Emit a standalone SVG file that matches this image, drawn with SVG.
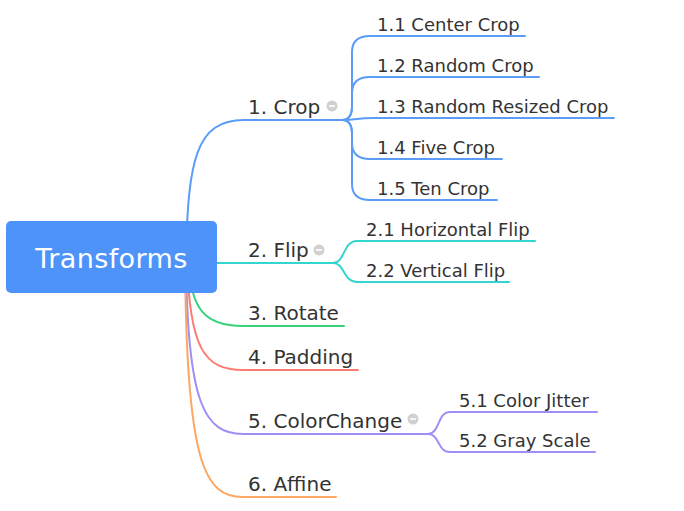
<svg xmlns="http://www.w3.org/2000/svg" width="684" height="511" viewBox="0 0 684 511">
<style>
.l1{font-family:"DejaVu Sans",Verdana,sans-serif;font-size:20px;fill:#333}
.l2{font-family:"DejaVu Sans",Verdana,sans-serif;font-size:18px;fill:#333}
.c{fill:none;stroke-width:2;stroke-linecap:round}
.blue{stroke:#5b9cf7}.cyan{stroke:#33d5d0}.green{stroke:#3ad27c}.red{stroke:#fb7d72}.purple{stroke:#9e8ff7}.orange{stroke:#fca763}
.mc{fill:#d0d0d0}.ml{stroke:#fff;stroke-width:1.6}
</style>
<rect width="684" height="511" fill="#fff"/>
<g id="connectors">
<path class="c blue" d="M186,257 C188,160 196,120 244,120 H342"/>
<path class="c cyan" d="M186,263 H333"/>
<path class="c green" d="M188,257 C190,310 205,326 243,326 H344"/>
<path class="c red" d="M187,257 C189,350 205,370 243,370 H358"/>
<path class="c purple" d="M186,257 C187,405 205,434 243,434 H428"/>
<path class="c orange" d="M185,257 C186,465 205,497 243,497 H336"/>
<path class="c blue" d="M342,120 Q352,120 352,106 V52 Q352,36 370,36 H525"/>
<path class="c blue" d="M342,120 Q352,120 352,106 V93 Q352,77 370,77 H539"/>
<path class="c blue" d="M342,120 C356,120 358,118 372,118 H614"/>
<path class="c blue" d="M342,120 Q352,120 352,134 V143 Q352,159 370,159 H502"/>
<path class="c blue" d="M342,120 Q352,120 352,134 V184 Q352,200 370,200 H497"/>
<path class="c cyan" d="M333,263 C345,263 343,241 357,241 H535"/>
<path class="c cyan" d="M333,263 C345,263 343,282 357,282 H509"/>
<path class="c purple" d="M428,434 C440,434 437,412 450,412 H597"/>
<path class="c purple" d="M428,434 C440,434 437,452 450,452 H595"/>
</g>
<g id="root">
<rect x="6" y="221" width="211" height="72" rx="5" fill="#4e93fa"/>
<text x="111.5" y="267.5" text-anchor="middle" font-family="DejaVu Sans, Verdana, sans-serif" font-size="27" letter-spacing="0.4" fill="#fff">Transforms</text>
</g>
<g id="n1"><text class="l1" x="248" y="114">1. Crop</text><circle class="mc" cx="332" cy="106" r="5.5"/><line class="ml" x1="329" y1="106" x2="335" y2="106"/></g>
<g id="n11"><text class="l2" x="377" y="30.5">1.1 Center Crop</text></g>
<g id="n12"><text class="l2" x="377" y="71.5">1.2 Random Crop</text></g>
<g id="n13"><text class="l2" x="377" y="112.5">1.3 Random Resized Crop</text></g>
<g id="n14"><text class="l2" x="377" y="153.5">1.4 Five Crop</text></g>
<g id="n15"><text class="l2" x="377" y="194.5">1.5 Ten Crop</text></g>
<g id="n2"><text class="l1" x="248" y="257">2. Flip</text><circle class="mc" cx="319" cy="250" r="5.5"/><line class="ml" x1="316" y1="250" x2="322" y2="250"/></g>
<g id="n21"><text class="l2" x="366" y="235.5">2.1 Horizontal Flip</text></g>
<g id="n22"><text class="l2" x="366" y="276.5">2.2 Vertical Flip</text></g>
<g id="n3"><text class="l1" x="248" y="320">3. Rotate</text></g>
<g id="n4"><text class="l1" x="248" y="364">4. Padding</text></g>
<g id="n5"><text class="l1" x="248" y="428">5. ColorChange</text><circle class="mc" cx="413" cy="419" r="5.5"/><line class="ml" x1="410" y1="419" x2="416" y2="419"/></g>
<g id="n51"><text class="l2" x="459" y="406.5">5.1 Color Jitter</text></g>
<g id="n52"><text class="l2" x="459" y="446.5">5.2 Gray Scale</text></g>
<g id="n6"><text class="l1" x="248" y="491">6. Affine</text></g>
</svg>
